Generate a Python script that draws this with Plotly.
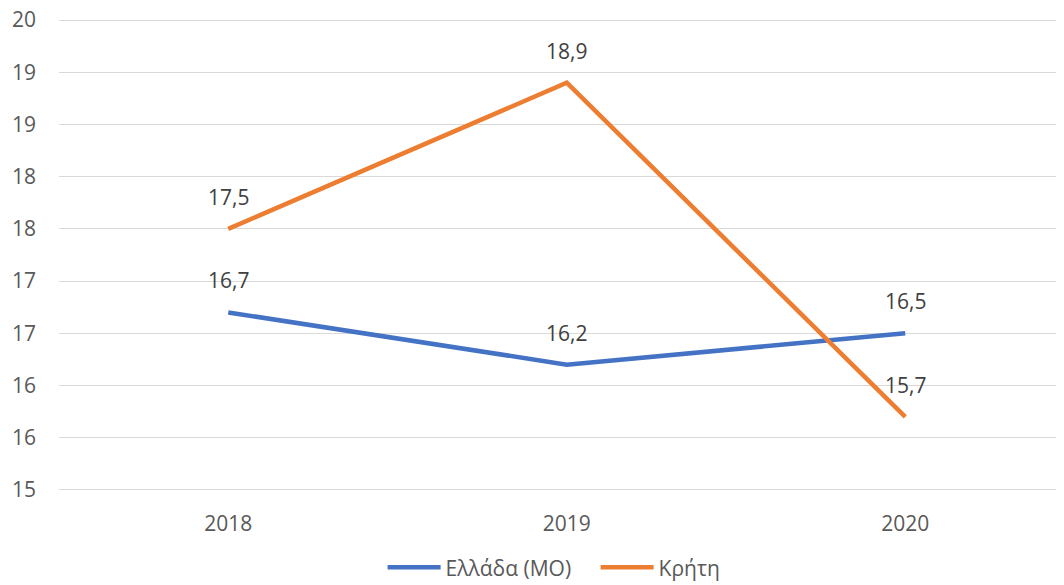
import plotly.graph_objects as go

years = ["2018", "2019", "2020"]
greece = [16.7, 16.2, 16.5]
crete = [17.5, 18.9, 15.7]
series_names = ["Ελλάδα (ΜΟ)", "Κρήτη"]
colors = ["#4472C4", "#ED7D31"]
ytick_vals = [15, 15.5, 16, 16.5, 17, 17.5, 18, 18.5, 19, 19.5]
ytick_text = ["15", "16", "16", "17", "17", "18", "18", "19", "19", "20"]

FONT = "Open Sans, Liberation Sans, sans-serif"
GRAY = "#595959"
FS = 21

fig = go.Figure()
annotations = []
for name, vals, col in zip(series_names, [greece, crete], colors):
    fig.add_trace(go.Scatter(
        x=years, y=vals, mode="lines", name=name,
        line=dict(color=col, width=4.5),
    ))
    for i, yv in enumerate(vals):
        annotations.append(dict(
            x=i, y=yv, xref="x", yref="y",
            text=f"{yv:.1f}".replace(".", ","),
            showarrow=False, yshift=32,
            font=dict(family=FONT, size=FS, color="#404040"),
        ))

# page body adds an 8px margin, so the figure is sized/offset to compensate
fig.update_layout(
    width=1056, height=577,
    margin=dict(l=51, r=0, t=10, b=93, autoexpand=False),
    paper_bgcolor="white", plot_bgcolor="white",
    font=dict(family=FONT, size=FS, color=GRAY),
    showlegend=True,
    legend=dict(orientation="h", x=0.322, xanchor="left",
                yref="container", y=0.03, yanchor="middle",
                font=dict(size=FS, color=GRAY), itemwidth=53,
                entrywidth=145, entrywidthmode="pixels",
                traceorder="normal"),
    annotations=annotations,
)
fig.update_xaxes(
    type="category", range=[-0.5, 2.469], automargin=False,
    showgrid=False, zeroline=False, showline=False,
    ticks="", ticklabelstandoff=17,
    tickfont=dict(size=FS, color=GRAY),
)
fig.update_yaxes(
    range=[14.98, 19.52], tickmode="array", tickvals=ytick_vals, ticktext=ytick_text,
    automargin=False, ticklabeloverflow="allow",
    showgrid=True, gridcolor="#D9D9D9", gridwidth=1.3, zeroline=False, showline=False,
    ticks="", ticklabelstandoff=22,
    tickfont=dict(size=FS, color=GRAY),
)

fig.write_html("out.html")
